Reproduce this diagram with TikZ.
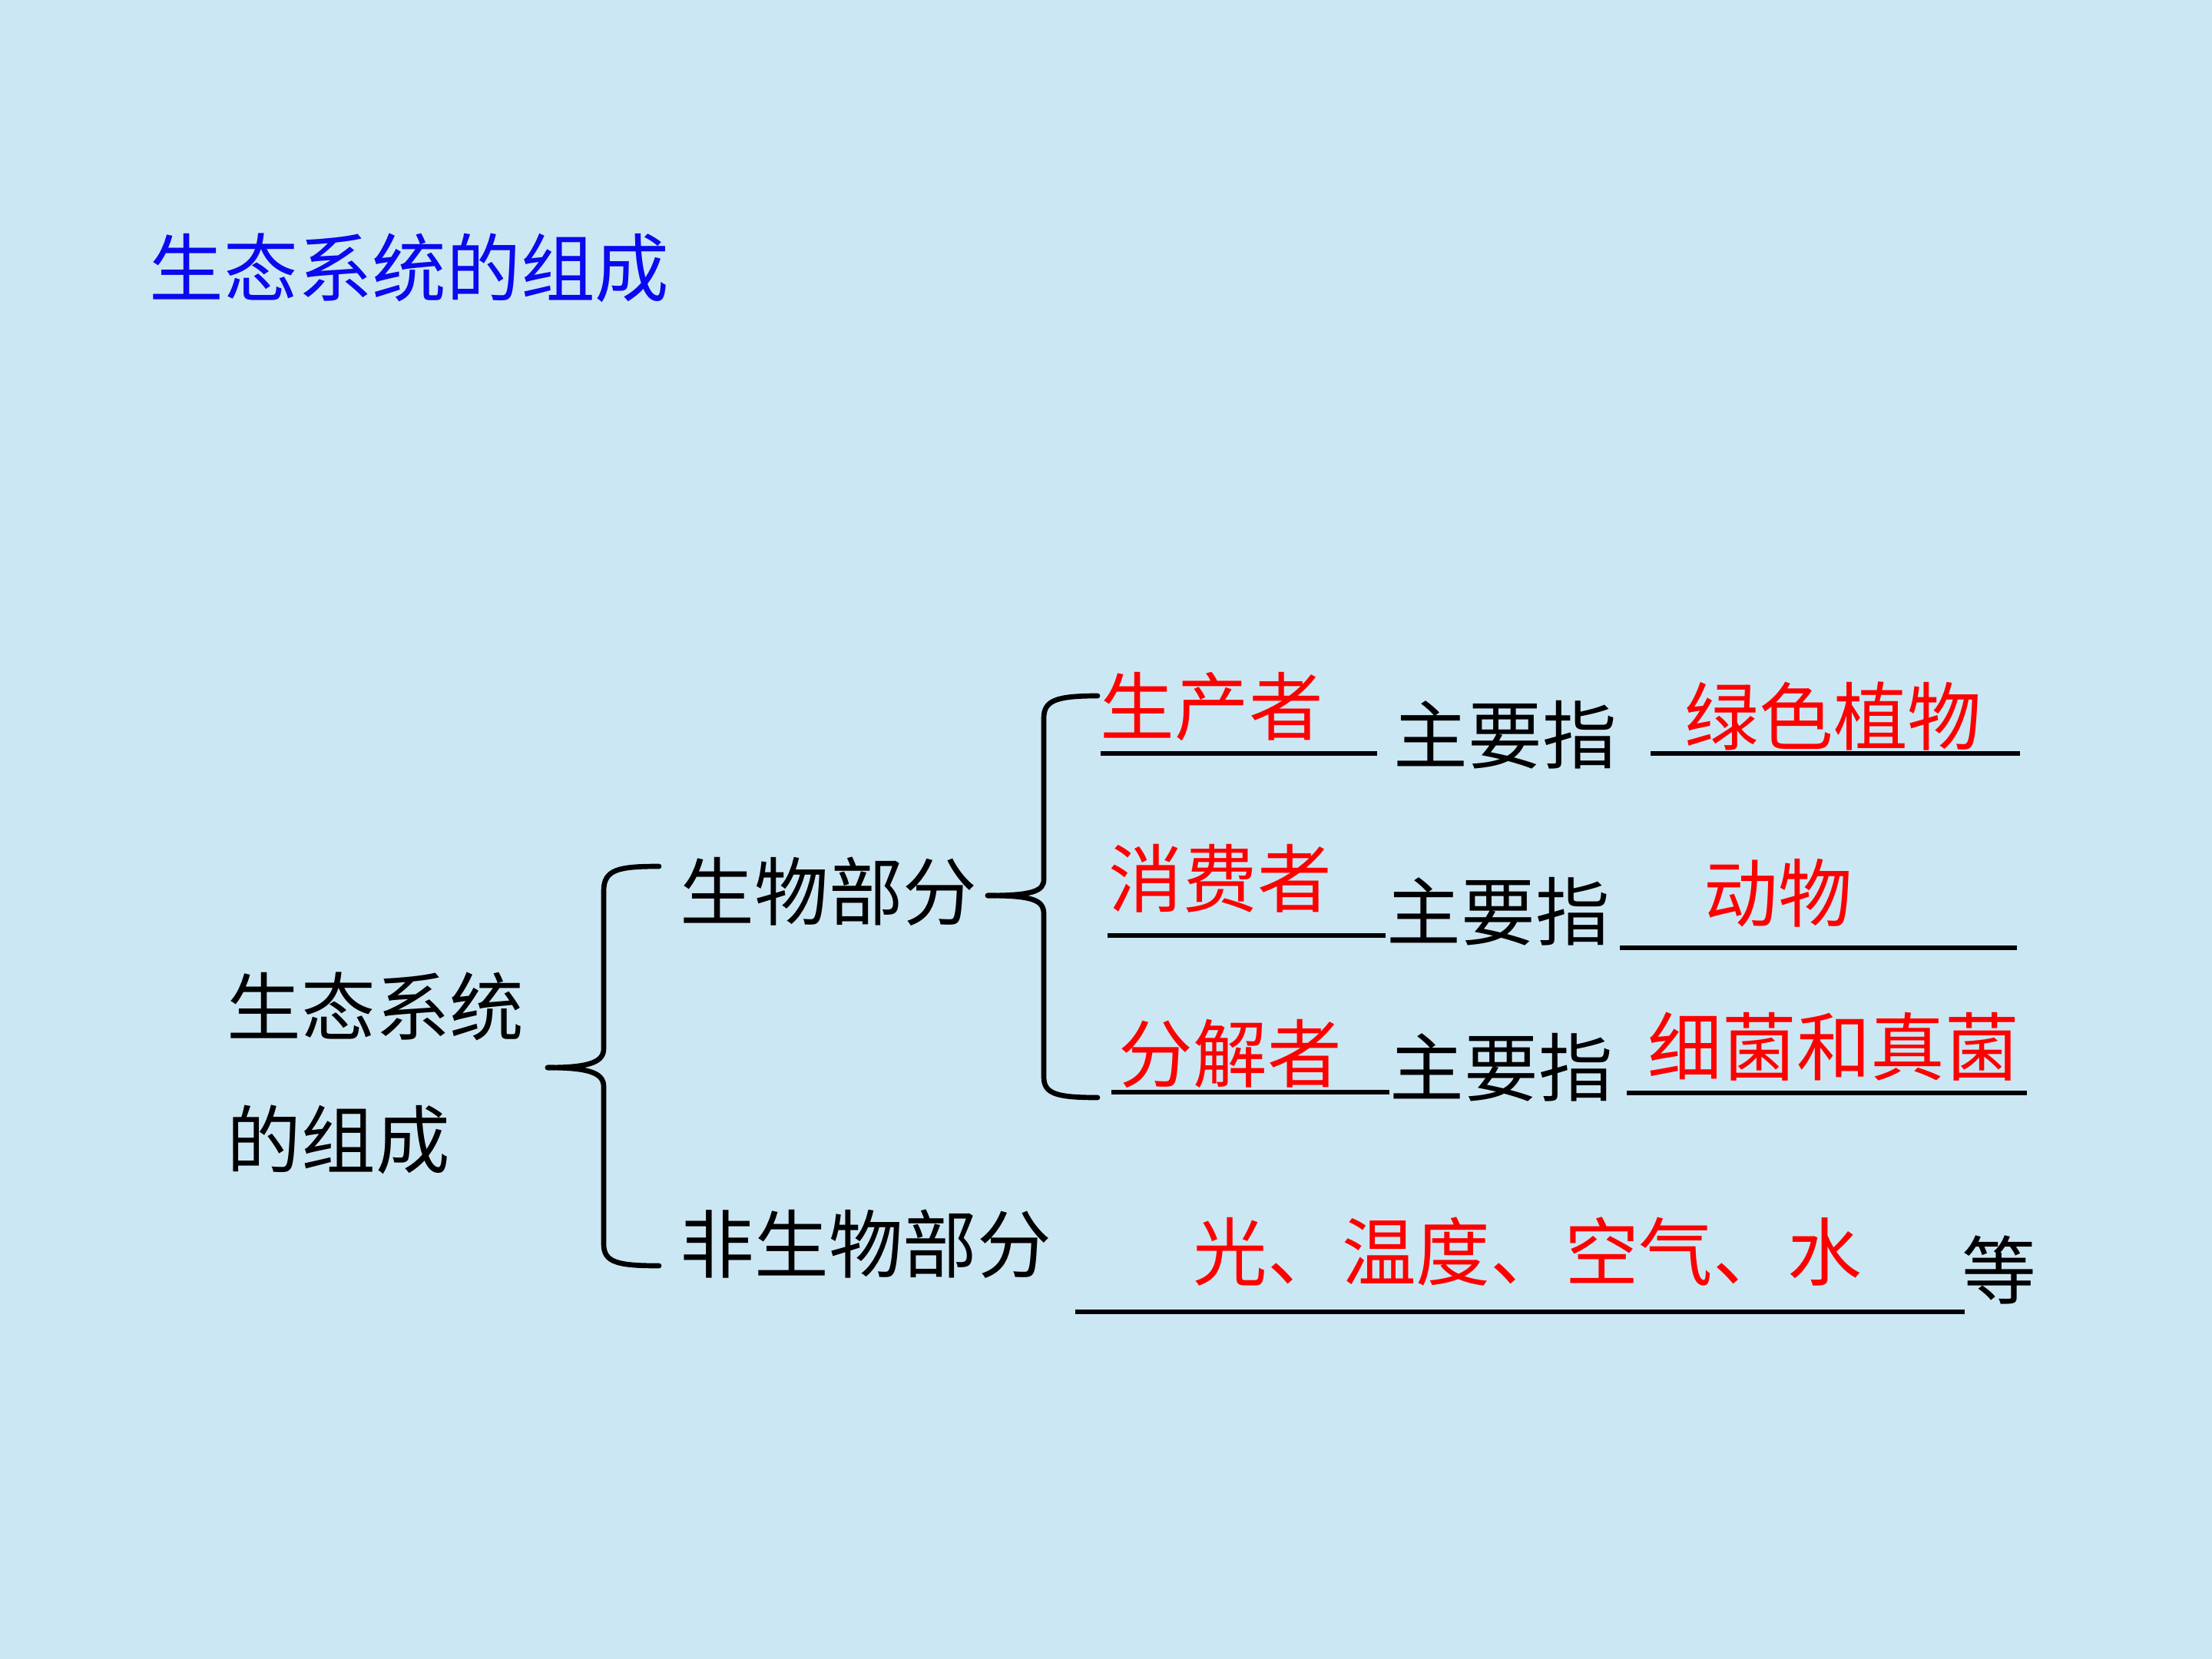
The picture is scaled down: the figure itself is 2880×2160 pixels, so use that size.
\documentclass[tikz,border=0pt]{standalone}
\usepackage{fontspec}
\setmainfont{Noto Sans CJK SC}
\definecolor{bg}{RGB}{204,231,244}
\definecolor{ttl}{RGB}{10,10,240}
\definecolor{ans}{RGB}{255,0,0}
\tikzset{
  lbl/.style={anchor=west,inner sep=0pt,font=\fontsize{27.5pt}{30pt}\selectfont},
  answer/.style={lbl,text=ans},
  blank/.style={line width=1.7pt},
  bracepath/.style={line width=1.9pt,line cap=round,line join=round}
}
\begin{document}
\begin{tikzpicture}[x=0.01cm,y=-0.01cm]
\fill[bg] (0,0) rectangle (2880,2160);
\useasboundingbox (0,0) rectangle (2880,2160);

% title
\node[lbl,text=ttl] (title) at (194,349) {生态系统的组成};

% left concept
\node[lbl] (sys1) at (295,1310) {生态系统};
\node[lbl] (sys2) at (295,1484) {的组成};

% second level
\node[lbl] (bio) at (885,1161) {生物部分};
\node[lbl] (abio) at (885,1620) {非生物部分};

% big brace
\coordinate (B1top) at (858,1128);
\coordinate (B1tip) at (713,1390);
\coordinate (B1bot) at (858,1648);
\draw[bracepath] (B1top) .. controls (805,1128) and (786,1132) .. (786,1160)
  -- (786,1365) .. controls (786,1382) and (770,1390) .. (B1tip);
\draw[bracepath] (B1tip) .. controls (770,1390) and (786,1398) .. (786,1415)
  -- (786,1620) .. controls (786,1644) and (805,1648) .. (B1bot);

% small brace
\coordinate (B2top) at (1429,906);
\coordinate (B2tip) at (1286,1166);
\coordinate (B2bot) at (1429,1429);
\draw[bracepath] (B2top) .. controls (1375,906) and (1359,912) .. (1359,935)
  -- (1359,1145) .. controls (1359,1160) and (1345,1166) .. (B2tip);
\draw[bracepath] (B2tip) .. controls (1345,1166) and (1359,1172) .. (1359,1190)
  -- (1359,1402) .. controls (1359,1424) and (1375,1429) .. (B2bot);

% row 1
\node[answer] (prod) at (1432,920) {生产者};
\node[lbl] (m1) at (1814,957) {主要指};
\node[answer] (plants) at (2193,933) {绿色植物};
\coordinate (u1a) at (1433,981); \coordinate (u1b) at (1793,981);
\coordinate (u1c) at (2149,981); \coordinate (u1d) at (2630,981);
\draw[blank] (u1a) -- (u1b);
\draw[blank] (u1c) -- (u1d);

% row 2
\node[answer] (cons) at (1443,1144) {消费者};
\node[lbl] (m2) at (1805,1187) {主要指};
\node[answer] (animals) at (2218,1163) {动物};
\coordinate (u2a) at (1442,1218); \coordinate (u2b) at (1804,1218);
\coordinate (u2c) at (2109,1234); \coordinate (u2d) at (2626,1234);
\draw[blank] (u2a) -- (u2b);
\draw[blank] (u2c) -- (u2d);

% row 3
\node[answer] (dec) at (1456,1372) {分解者};
\node[lbl] (m3) at (1809,1390) {主要指};
\node[answer] (fungi) at (2145,1363) {细菌和真菌};
\coordinate (u3a) at (1447,1422); \coordinate (u3b) at (1809,1422);
\coordinate (u3c) at (2118,1423); \coordinate (u3d) at (2639,1423);
\draw[blank] (u3a) -- (u3b);
\draw[blank] (u3c) -- (u3d);

% row 4
\node[answer] (env) at (1553,1629) {光、温度、空气、水};
\node[lbl] (etc) at (2554,1653) {等};
\coordinate (u4a) at (1400,1708); \coordinate (u4b) at (2558,1708);
\draw[blank] (u4a) -- (u4b);
\end{tikzpicture}
\end{document}
